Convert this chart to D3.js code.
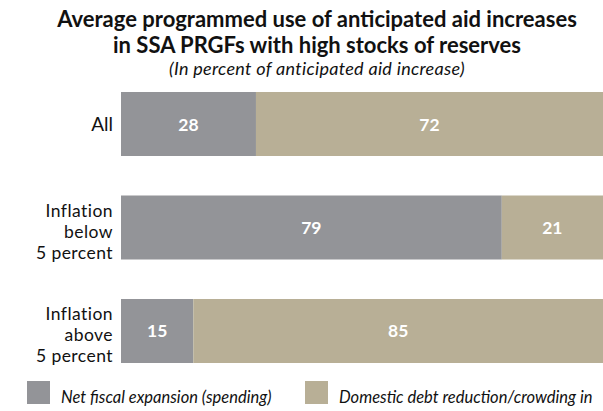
<!DOCTYPE html>
<html>
<head>
<meta charset="utf-8">
<script src="https://cdn.jsdelivr.net/npm/d3@7"></script>
<style>
  html, body { margin: 0; padding: 0; background: #fff; }
  svg { display: block; font-family: Lato, "Open Sans", sans-serif; }
</style>
</head>
<body>
<svg id="chart" width="603" height="411"></svg>
<script>
// Groups of SSA PRGF programmes (one bar each)
const categories = ["All", "Inflation below 5 percent", "Inflation above 5 percent"];
const categoryLines = [["All"], ["Inflation", "below", "5 percent"], ["Inflation", "above", "5 percent"]];
// Share of anticipated aid increase, percent
const spending = [28, 79, 15];
const debtReduction = [72, 21, 85];
const seriesNames = ["Net fiscal expansion (spending)", "Domestic debt reduction/crowding in"];
const seriesColors = ["#939498", "#b8af96"];

const svg = d3.select("#chart");
const W = 603;
const plotLeft = 121;

const x = d3.scaleLinear().domain([0, 100]).range([plotLeft, W]);
const y = d3.scaleBand().domain(categories).range([92, 363]).paddingInner(0.3816).paddingOuter(0);

// Title block
const title = svg.append("g").attr("text-anchor", "middle").attr("fill", "#111");
title.append("text").attr("x", 317).attr("y", 27).attr("font-size", 22).attr("font-weight", 700)
  .text("Average programmed use of anticipated aid increases");
title.append("text").attr("x", 317).attr("y", 53).attr("font-size", 22).attr("font-weight", 700)
  .text("in SSA PRGFs with high stocks of reserves");
title.append("text").attr("x", 317).attr("y", 75).attr("font-size", 18).attr("font-style", "italic")
  .attr("letter-spacing", 0.3)
  .text("(In percent of anticipated aid increase)");

// Stacked bars
const rows = categories.map((c, i) => ({ cat: c, vals: [spending[i], debtReduction[i]] }));
const stackData = rows.map(r => {
  let acc = 0;
  return r.vals.map((v, k) => { const s = { cat: r.cat, k, v, x0: acc, x1: acc + v }; acc += v; return s; });
}).flat();

svg.append("g").selectAll("rect").data(stackData).join("rect")
  .attr("x", d => x(d.x0))
  .attr("y", d => y(d.cat))
  .attr("width", d => x(d.x1) - x(d.x0))
  .attr("height", y.bandwidth())
  .attr("fill", d => seriesColors[d.k]);

svg.append("g").selectAll("text").data(stackData).join("text")
  .attr("x", d => (x(d.x0) + x(d.x1)) / 2)
  .attr("y", d => y(d.cat) + y.bandwidth() / 2 + 6.5)
  .attr("text-anchor", "middle")
  .attr("fill", "#fff")
  .attr("font-size", 17.5)
  .attr("font-weight", 700)
  .text(d => d.v);

// Category labels (left axis, no line/ticks), one text per line
const axis = svg.append("g").attr("transform", `translate(${plotLeft},0)`)
  .call(d3.axisLeft(y).tickSize(0).tickPadding(8).tickFormat(() => ""));
axis.select(".domain").remove();
axis.selectAll(".tick").each(function (d, i) {
  const lines = categoryLines[i];
  const lh = 21;
  const shift = lines.length > 1 ? 10.5 : 6.5;
  const tick = d3.select(this);
  tick.select("text").remove();
  lines.forEach((ln, j) => {
    tick.append("text")
      .attr("x", -8)
      .attr("y", (j - (lines.length - 1) / 2) * lh + shift)
      .attr("text-anchor", "end")
      .attr("font-size", lines.length > 1 ? 17.5 : 19)
      .attr("letter-spacing", lines.length > 1 ? 0.45 : 0)
      .attr("fill", "#111")
      .attr("font-family", "Lato, 'Open Sans', sans-serif")
      .text(ln);
  });
});

// Legend
const legend = svg.append("g");
const legendX = [27, 305];
seriesNames.forEach((n, i) => {
  legend.append("rect").attr("x", legendX[i]).attr("y", 381).attr("width", 23).attr("height", 23)
    .attr("fill", seriesColors[i]);
  legend.append("text").attr("x", legendX[i] + 34).attr("y", 403)
    .attr("font-size", 16.5).attr("font-style", "italic").attr("fill", "#111").text(n);
});
</script>
</body>
</html>
